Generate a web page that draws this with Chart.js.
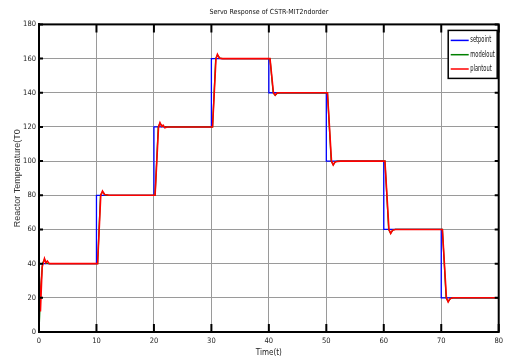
<!DOCTYPE html>
<html>
<head>
<meta charset="utf-8">
<script src="https://cdn.jsdelivr.net/npm/chart.js@4"></script>
<style>
  html, body { margin: 0; padding: 0; background: #fff; }
  #wrap { width: 508px; height: 358px; }
</style>
</head>
<body>
<div id="wrap"><canvas id="servo"></canvas></div>
<script>
// setpoint steps (time, value)
const setpointT = [0, 10, 10, 20, 20, 30, 30, 40, 40, 50, 50, 60, 60, 70, 70, 80];
const setpointV = [40, 40, 80, 80, 120, 120, 160, 160, 140, 140, 100, 100, 60, 60, 20, 20];

// model output (mostly hidden under the plant curve)
const modelT = [0, 0.3, 0.6, 0.95, 1.3, 1.7, 10, 10.2, 10.7, 11.05, 11.5, 12, 20, 20.2, 20.75, 21.05, 21.5, 22,
  30, 30.2, 30.75, 31.05, 31.5, 32, 40, 40.2, 40.75, 41.1, 41.5, 42, 50, 50.2, 50.85, 51.2, 51.6, 52,
  60, 60.2, 60.85, 61.2, 61.6, 62, 70, 70.2, 70.85, 71.2, 71.6, 72, 80];
const modelV = [0, 25, 40, 42.5, 40.3, 40, 40, 40, 80, 82, 80.3, 80, 80, 80, 120, 122, 120.3, 120,
  120, 120, 160, 162, 160.3, 160, 160, 160, 140, 138.5, 139.8, 140, 140, 140, 100, 97.8, 99.7, 100,
  100, 100, 60, 57.8, 59.7, 60, 60, 60, 20, 17.8, 19.6, 20, 20];

// plant output
const plantT = [0, 0.25, 0.55, 0.95, 1.2, 1.45, 1.8, 10, 10.2, 10.75, 11.05, 11.4, 11.8, 12.2, 20, 20.2, 20.8, 21.05, 21.35, 21.6, 21.9, 22.3,
  30, 30.2, 30.8, 31.05, 31.4, 31.8, 40, 40.2, 40.8, 41.1, 41.4, 41.8, 50, 50.2, 50.9, 51.2, 51.5, 51.9, 52.5,
  60, 60.2, 60.9, 61.2, 61.5, 62, 70, 70.2, 70.9, 71.2, 71.5, 72, 80];
const plantV = [40, 12, 38, 43, 40.5, 41.5, 40, 40, 40, 80, 82.5, 80.5, 80.3, 80, 80, 80, 120, 122.5, 120.3, 121, 119.5, 120,
  120, 120, 160, 162.5, 160.3, 160, 160, 160, 140, 138.6, 139.8, 140, 140, 140, 100, 97.7, 99.5, 99.8, 100,
  100, 100, 60, 57.7, 59.5, 60, 60, 60, 20, 17.6, 19.4, 20, 20];

const xTicks = [0, 10, 20, 30, 40, 50, 60, 70, 80];
const yTicks = [0, 20, 40, 60, 80, 100, 120, 140, 160, 180];

const pts = (t, v) => t.map((x, i) => ({ x: x, y: v[i] }));
const narrow = "'Liberation Sans Narrow', 'DejaVu Sans Condensed', 'Liberation Sans', sans-serif";

// black frame with matlab-style inner ticks
const frame = {
  id: 'frame',
  afterDatasetsDraw(chart) {
    const ctx = chart.ctx, a = chart.chartArea;
    const xs = chart.scales.x, ys = chart.scales.y;
    ctx.save();
    ctx.strokeStyle = '#000';
    ctx.lineWidth = 2;
    ctx.strokeRect(a.left, a.top, a.right - a.left, a.bottom - a.top);
    ctx.beginPath();
    xTicks.forEach(v => {
      const px = xs.getPixelForValue(v);
      ctx.moveTo(px, a.bottom); ctx.lineTo(px, a.bottom - 8);
      ctx.moveTo(px, a.top); ctx.lineTo(px, a.top + 8);
    });
    yTicks.forEach(v => {
      const py = ys.getPixelForValue(v);
      ctx.moveTo(a.left, py); ctx.lineTo(a.left + 4, py);
      ctx.moveTo(a.right, py); ctx.lineTo(a.right - 4, py);
    });
    ctx.stroke();
    ctx.restore();
  }
};

// boxed legend in the upper right corner
const boxLegend = {
  id: 'boxLegend',
  afterDraw(chart) {
    const ctx = chart.ctx, a = chart.chartArea;
    const w = 49, h = 48;
    const x = a.right - 50.5, y = a.top + 6;
    ctx.save();
    ctx.fillStyle = '#fff';
    ctx.fillRect(x, y, w, h);
    ctx.strokeStyle = '#000';
    ctx.lineWidth = 1.5;
    ctx.strokeRect(x, y, w, h);
    ctx.font = '8px ' + narrow;
    ctx.textBaseline = 'middle';
    // squeeze the labels so the widest one fits the box like the original
    const widest = Math.max(...chart.data.datasets.map(d => ctx.measureText(d.label).width));
    const sx = Math.min(1, 24.5 / widest);
    chart.data.datasets.forEach((ds, i) => {
      const yy = y + 10 + i * 14.3;
      ctx.strokeStyle = ds.borderColor;
      ctx.lineWidth = 1.5;
      ctx.beginPath();
      ctx.moveTo(x + 2.5, yy); ctx.lineTo(x + 20.5, yy);
      ctx.stroke();
      ctx.save();
      ctx.translate(x + 22, yy);
      ctx.scale(sx, 1);
      ctx.fillStyle = '#111';
      ctx.fillText(ds.label, 0, 0);
      ctx.restore();
    });
    ctx.restore();
  }
};

new Chart(document.getElementById('servo'), {
  type: 'line',
  data: {
    datasets: [
      { label: 'setpoint', data: pts(setpointT, setpointV), borderColor: '#0000ff', borderWidth: 1.3, order: 2 },
      { label: 'modelout', data: pts(modelT, modelV), borderColor: '#008000', borderWidth: 1.3, order: 1 },
      { label: 'plantout', data: pts(plantT, plantV), borderColor: '#ff0000', borderWidth: 1.6, order: 0 }
    ]
  },
  options: {
    responsive: true,
    maintainAspectRatio: false,
    animation: false,
    elements: { point: { radius: 0 }, line: { tension: 0 } },
    layout: { padding: { left: 0, right: 5, top: 0, bottom: 0 } },
    plugins: {
      legend: { display: false },
      tooltip: { enabled: false },
      title: {
        display: true,
        text: 'Servo Response of CSTR-MIT2ndorder',
        fullSize: false,
        color: '#111',
        font: { family: narrow, size: 7, weight: 'normal' },
        padding: { top: 8, bottom: 8 }
      }
    },
    scales: {
      x: {
        type: 'linear',
        min: 0, max: 80,
        afterFit: s => { s.height = 26; },
        afterBuildTicks: s => { s.ticks = xTicks.map(v => ({ value: v })); },
        grid: { color: '#9a9a9a', lineWidth: 1, drawTicks: false },
        border: { display: true, color: '#000', width: 2 },
        ticks: { color: '#222', padding: 5, font: { family: narrow, size: 7.5 } },
        title: { display: true, text: 'Time(t)', color: '#222', padding: { top: 0, bottom: 0 }, font: { family: narrow, size: 8 } }
      },
      y: {
        type: 'linear',
        min: 0, max: 180,
        afterFit: s => { s.width = 39; },
        afterBuildTicks: s => { s.ticks = yTicks.map(v => ({ value: v })); },
        grid: { color: '#9a9a9a', lineWidth: 1, drawTicks: false },
        border: { display: true, color: '#000', width: 2 },
        ticks: { color: '#222', padding: 3, font: { family: narrow, size: 7.5 } },
        title: { display: true, text: 'Reactor Temperature(T0', color: '#333', padding: { top: 12, bottom: 0 }, font: { family: "'Liberation Sans', sans-serif", size: 9 } }
      }
    }
  },
  plugins: [frame, boxLegend]
});
</script>
</body>
</html>
